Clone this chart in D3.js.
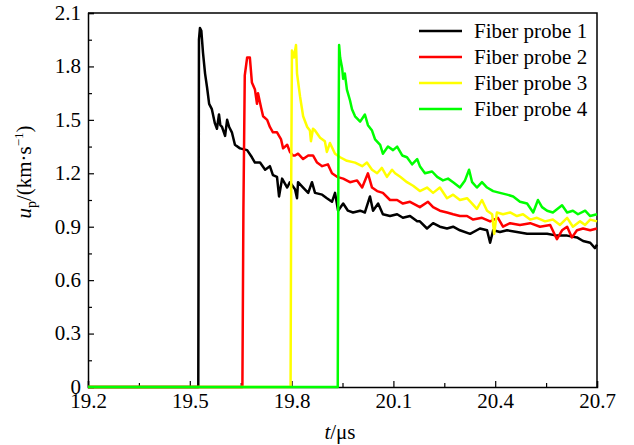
<!DOCTYPE html>
<html>
<head>
<meta charset="utf-8">
<script src="https://cdn.jsdelivr.net/npm/d3@7"></script>
</head>
<body style="margin:0">
<script>
// Fiber probe traces, [t (us), u_p (km/s)]
const probe1 = [[19.2,0],[19.525,0],[19.527,1.95],[19.530,2.016],[19.534,2.0],[19.539,1.875],[19.545,1.76],[19.551,1.68],[19.557,1.59],[19.565,1.56],[19.574,1.48],[19.580,1.45],[19.586,1.53],[19.590,1.47],[19.595,1.46],[19.604,1.41],[19.610,1.50],[19.616,1.46],[19.624,1.43],[19.633,1.36],[19.648,1.34],[19.669,1.33],[19.683,1.29],[19.692,1.26],[19.707,1.26],[19.722,1.22],[19.736,1.24],[19.745,1.19],[19.757,1.18],[19.763,1.07],[19.772,1.17],[19.787,1.12],[19.795,1.15],[19.810,1.11],[19.816,1.06],[19.819,1.15],[19.834,1.12],[19.849,1.09],[19.860,1.15],[19.869,1.09],[19.890,1.08],[19.904,1.06],[19.919,1.04],[19.928,1.09],[19.937,0.99],[19.952,1.03],[19.966,0.99],[19.981,0.98],[20.002,0.99],[20.016,0.98],[20.031,1.07],[20.040,0.99],[20.055,1.03],[20.069,0.97],[20.090,0.96],[20.111,0.97],[20.128,0.95],[20.149,0.96],[20.170,0.93],[20.178,0.93],[20.199,0.89],[20.217,0.92],[20.237,0.90],[20.258,0.89],[20.276,0.90],[20.296,0.88],[20.326,0.86],[20.355,0.89],[20.376,0.88],[20.385,0.81],[20.394,0.88],[20.414,0.87],[20.435,0.88],[20.464,0.87],[20.494,0.86],[20.523,0.86],[20.553,0.86],[20.582,0.85],[20.612,0.85],[20.641,0.84],[20.659,0.82],[20.680,0.81],[20.694,0.78],[20.700,0.80]];

const probe2 = [[19.2,0],[19.655,0],[19.658,1.0],[19.662,1.75],[19.669,1.85],[19.677,1.85],[19.683,1.71],[19.692,1.67],[19.698,1.59],[19.701,1.65],[19.710,1.57],[19.716,1.52],[19.728,1.50],[19.736,1.46],[19.745,1.43],[19.757,1.43],[19.769,1.39],[19.775,1.34],[19.787,1.36],[19.795,1.32],[19.804,1.30],[19.810,1.30],[19.819,1.31],[19.834,1.28],[19.849,1.30],[19.863,1.30],[19.875,1.26],[19.890,1.24],[19.907,1.25],[19.919,1.20],[19.934,1.18],[19.952,1.17],[19.972,1.15],[19.993,1.16],[20.008,1.12],[20.025,1.20],[20.037,1.12],[20.052,1.10],[20.069,1.09],[20.090,1.05],[20.111,1.05],[20.128,1.03],[20.149,1.04],[20.178,1.01],[20.202,1.04],[20.217,1.01],[20.237,0.99],[20.258,0.98],[20.276,0.97],[20.296,0.96],[20.317,0.96],[20.335,0.94],[20.361,0.95],[20.385,0.93],[20.408,0.95],[20.423,0.90],[20.444,0.92],[20.473,0.91],[20.503,0.92],[20.532,0.90],[20.562,0.91],[20.582,0.83],[20.597,0.88],[20.612,0.90],[20.626,0.84],[20.641,0.88],[20.659,0.89],[20.680,0.88],[20.700,0.89]];

const probe3 = [[19.2,0],[19.797,0],[19.799,1.2],[19.801,1.89],[19.807,1.85],[19.813,1.92],[19.816,1.76],[19.825,1.63],[19.834,1.52],[19.846,1.46],[19.854,1.44],[19.857,1.38],[19.863,1.45],[19.869,1.44],[19.884,1.40],[19.898,1.38],[19.904,1.32],[19.913,1.37],[19.928,1.31],[19.943,1.29],[19.963,1.27],[19.987,1.26],[20.008,1.24],[20.022,1.26],[20.037,1.22],[20.052,1.20],[20.066,1.23],[20.081,1.18],[20.096,1.22],[20.105,1.20],[20.120,1.18],[20.140,1.15],[20.158,1.13],[20.178,1.10],[20.199,1.12],[20.217,1.09],[20.237,1.12],[20.258,1.06],[20.276,1.08],[20.296,1.05],[20.317,1.06],[20.332,1.03],[20.346,1.00],[20.361,1.05],[20.376,0.99],[20.391,0.97],[20.397,0.86],[20.405,0.98],[20.423,0.97],[20.444,0.98],[20.464,0.96],[20.482,0.97],[20.503,0.94],[20.523,0.95],[20.547,0.93],[20.570,0.94],[20.591,0.91],[20.612,0.95],[20.629,0.90],[20.650,0.93],[20.665,0.91],[20.680,0.94],[20.700,0.93]];

const probe4 = [[19.2,0],[19.936,0],[19.938,1.3],[19.940,1.92],[19.943,1.85],[19.949,1.79],[19.952,1.73],[19.957,1.76],[19.963,1.67],[19.972,1.61],[19.978,1.56],[19.987,1.52],[20.002,1.49],[20.016,1.53],[20.025,1.47],[20.037,1.44],[20.046,1.39],[20.061,1.36],[20.069,1.31],[20.084,1.35],[20.099,1.33],[20.111,1.35],[20.126,1.30],[20.140,1.29],[20.155,1.25],[20.170,1.28],[20.178,1.24],[20.193,1.20],[20.214,1.21],[20.229,1.18],[20.246,1.16],[20.261,1.17],[20.276,1.15],[20.296,1.12],[20.311,1.16],[20.323,1.22],[20.332,1.15],[20.346,1.12],[20.361,1.15],[20.376,1.12],[20.394,1.10],[20.414,1.09],[20.435,1.08],[20.453,1.07],[20.473,1.04],[20.494,1.03],[20.512,0.98],[20.526,1.05],[20.538,1.01],[20.553,0.99],[20.570,0.98],[20.597,1.02],[20.612,0.98],[20.629,0.99],[20.644,0.97],[20.665,0.99],[20.680,0.96],[20.700,0.97]];

const seriesNames = ['Fiber probe 1', 'Fiber probe 2', 'Fiber probe 3', 'Fiber probe 4'];
const seriesColors = ['#000000', '#ff0000', '#ffff00', '#00ff00'];
const xTicks = [19.2, 19.5, 19.8, 20.1, 20.4, 20.7];
const yTicks = [0, 0.3, 0.6, 0.9, 1.2, 1.5, 1.8, 2.1];

const series = [probe1, probe2, probe3, probe4];
const FONT = '"Times New Roman"';

const width = 634;
const height = 445;
const margin = {top: 13, right: 37, bottom: 58, left: 88};
const iw = width - margin.left - margin.right;
const ih = height - margin.top - margin.bottom;

const svg = d3.select('body').append('svg')
  .attr('width', width)
  .attr('height', height);

const g = svg.append('g').attr('transform', `translate(${margin.left},${margin.top})`);

const x = d3.scaleLinear().domain([19.2, 20.7]).range([0, iw]);
const y = d3.scaleLinear().domain([0, 2.1]).range([ih, 0]);

// minor ticks halfway between majors
const xMinor = xTicks.slice(1).map((d, i) => (d + xTicks[i]) / 2);
const yMinor = yTicks.slice(1).map((d, i) => (d + yTicks[i]) / 2);

// frame (top + right)
g.append('path')
  .attr('d', `M0,0H${iw}V${ih}`)
  .attr('fill', 'none')
  .attr('stroke', '#000')
  .attr('stroke-width', 1.5);

// x axis, ticks pointing inward
g.append('g').attr('transform', `translate(0,${ih})`)
  .call(d3.axisBottom(x).tickValues(xTicks).tickSize(-6).tickPadding(6).tickFormat(d3.format('.1f')));
g.append('g').attr('transform', `translate(0,${ih})`)
  .call(d3.axisBottom(x).tickValues(xMinor).tickSize(-4).tickFormat(''))
  .select('.domain').remove();

const gy = g.append('g')
  .call(d3.axisLeft(y).tickValues(yTicks).tickSize(-6).tickPadding(7)
    .tickFormat(d => d === 0 ? '0' : d3.format('.1f')(d)));
g.append('g')
  .call(d3.axisLeft(y).tickValues(yMinor).tickSize(-4).tickFormat(''))
  .select('.domain').remove();

g.selectAll('g').attr('font-family', null).attr('font-size', null);
g.selectAll('.domain').attr('stroke', '#000').attr('stroke-width', 1.5);
g.selectAll('.tick line').attr('stroke', '#000').attr('stroke-width', 1.2);
g.selectAll('.tick text')
  .attr('fill', '#000')
  .style('font-family', FONT)
  .style('font-size', '21px');
gy.selectAll('text').attr('dy', '0.3em');

// traces
const line = d3.line().x(d => x(d[0])).y(d => y(d[1]));
g.selectAll('.trace').data(series).join('path')
  .attr('class', 'trace')
  .attr('d', line)
  .attr('fill', 'none')
  .attr('stroke', (d, i) => seriesColors[i])
  .attr('stroke-width', 2.5)
  .attr('stroke-linejoin', 'round');

// legend
const legend = svg.append('g').attr('transform', 'translate(419,31)');
const items = legend.selectAll('g').data(seriesNames).join('g')
  .attr('transform', (d, i) => `translate(0,${i * 26})`);
items.append('line')
  .attr('x1', 0).attr('x2', 43)
  .attr('stroke', (d, i) => seriesColors[i])
  .attr('stroke-width', 2.5);
items.append('text')
  .attr('x', 55)
  .attr('y', 7)
  .style('font-family', FONT)
  .style('font-size', '21px')
  .text(d => d);

// axis titles
svg.append('text')
  .attr('x', 340).attr('y', 439)
  .attr('text-anchor', 'middle')
  .style('font-family', FONT)
  .style('font-size', '21px')
  .call(t => {
    t.append('tspan').attr('font-style', 'italic').text('t');
    t.append('tspan').text('/μs');
  });

const yt = svg.append('text')
  .attr('transform', 'translate(31,172) rotate(-90)')
  .attr('text-anchor', 'middle')
  .style('font-family', FONT)
  .style('font-size', '21px');
yt.append('tspan').attr('font-style', 'italic').text('u');
yt.append('tspan').style('font-size', '14px').attr('dy', 5).text('p');
yt.append('tspan').attr('dy', -5).text('/(km·s');
yt.append('tspan').style('font-size', '13px').attr('dy', -8).text('−1');
yt.append('tspan').attr('dy', 8).text(')');
</script>
</body>
</html>
